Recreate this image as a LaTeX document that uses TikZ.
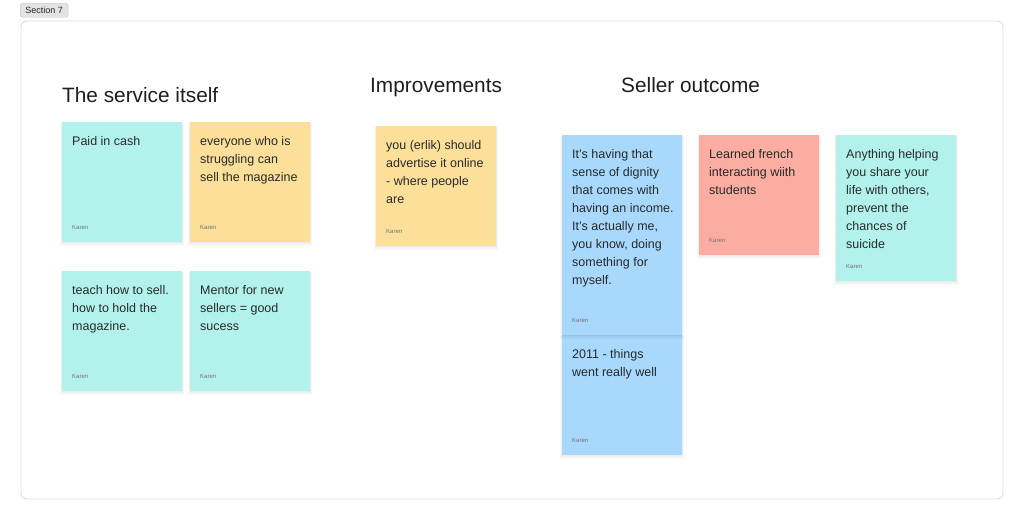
\documentclass[tikz,border=0pt]{standalone}
\usepackage{fontspec}
\setmainfont{Liberation Sans}
\usetikzlibrary{calc}
\definecolor{ncyan}{HTML}{B3F2EC}
\definecolor{nyellow}{HTML}{FCDF99}
\definecolor{nblue}{HTML}{A8D8FC}
\definecolor{nsalmon}{HTML}{FCADA1}
\definecolor{ntextc}{HTML}{262B2B}
\definecolor{titlec}{HTML}{1E1E1E}
\definecolor{framec}{HTML}{DCDCDC}
\definecolor{tagfill}{HTML}{E3E3E3}
\definecolor{tagdraw}{HTML}{C4C4C4}
\tikzset{
  notebox/.style={rectangle, inner sep=0pt, anchor=north west, minimum width=120pt, draw=none},
  ntext/.style={inner sep=0pt, anchor=north west, align=left, text=ntextc, font=\fontsize{12.5}{18}\selectfont},
  karen/.style={inner sep=0pt, anchor=base west, text=black!55, font=\fontsize{6}{7}\selectfont},
  sectitle/.style={inner sep=0pt, anchor=base west, text=titlec, font=\fontsize{20.8}{24}\selectfont},
}
\begin{document}
\begin{tikzpicture}[x=1pt,y=-1pt]
\useasboundingbox (0,0) rectangle (1024,520);
% frame
\draw[framec, line width=0.9pt, rounded corners=6pt] (21,21) rectangle (1003,499);
% section tag
\node[rectangle, rounded corners=2.5pt, fill=tagfill, draw=tagdraw, line width=0.4pt, inner sep=0pt, minimum width=48pt, minimum height=14pt, anchor=north west, font=\fontsize{9}{10}\selectfont, text=black!85] (tag) at (20,3) {Section 7};
% titles
\node[sectitle] (t1) at (62,102) {The service itself};
\node[sectitle] (t2) at (370,92) {Improvements};
\node[sectitle] (t3) at (621,92) {Seller outcome};

% soft shadows
\foreach \x/\y/\h in {62/122/120, 190/122/120, 62/271/120, 190/271/120, 376/126/120, 562/335/120, 562/135/200, 699/135/120, 836/135/146}{
  \foreach \s in {1,2,3,4}{
    \fill[black, opacity=0.018] (\x-\s*0.5,\y+1) rectangle (\x+120+\s*0.5,\y+\h+\s*1.1);
  }
}

% notes
\node[notebox, fill=ncyan, minimum height=120pt] (n1) at (62,122) {};
\node[ntext] at ($(n1.north west)+(10,13.5)$) {\rule{0pt}{10pt}Paid in cash};
\node[karen] at ($(n1.south west)+(10,-13)$) {Karen};

\node[notebox, fill=nyellow, minimum height=120pt] (n2) at (190,122) {};
\node[ntext] at ($(n2.north west)+(10,13.5)$) {\rule{0pt}{10pt}everyone who is\\struggling can\\sell the magazine};
\node[karen] at ($(n2.south west)+(10,-13)$) {Karen};

\node[notebox, fill=ncyan, minimum height=120pt] (n3) at (62,271) {};
\node[ntext] at ($(n3.north west)+(10,13.5)$) {\rule{0pt}{10pt}teach how to sell.\\how to hold the\\magazine.};
\node[karen] at ($(n3.south west)+(10,-13)$) {Karen};

\node[notebox, fill=ncyan, minimum height=120pt] (n4) at (190,271) {};
\node[ntext] at ($(n4.north west)+(10,13.5)$) {\rule{0pt}{10pt}Mentor for new\\sellers = good\\sucess};
\node[karen] at ($(n4.south west)+(10,-13)$) {Karen};

\node[notebox, fill=nyellow, minimum height=120pt] (n5) at (376,126) {};
\node[ntext] at ($(n5.north west)+(10,13.5)$) {\rule{0pt}{10pt}you (erlik) should\\advertise it online\\- where people\\are};
\node[karen] at ($(n5.south west)+(10,-13)$) {Karen};

\node[notebox, fill=nblue, minimum height=120pt] (n7) at (562,335) {};
\node[ntext] at ($(n7.north west)+(10,13.5)$) {\rule{0pt}{10pt}2011 - things\\went really well};
\node[karen] at ($(n7.south west)+(10,-13)$) {Karen};

\foreach \s in {1,2,3}{\fill[black, opacity=0.03] (562,335) rectangle (682,335+\s*1.2);}
\node[notebox, fill=nblue, minimum height=200pt] (n6) at (562,135) {};
\node[ntext] at ($(n6.north west)+(10,13.5)$) {\rule{0pt}{10pt}It’s having that\\sense of dignity\\that comes with\\having an income.\\It’s actually me,\\you know, doing\\something for\\myself.};
\node[karen] at ($(n6.south west)+(10,-13)$) {Karen};

\node[notebox, fill=nsalmon, minimum height=120pt] (n8) at (699,135) {};
\node[ntext] at ($(n8.north west)+(10,13.5)$) {\rule{0pt}{10pt}Learned french\\interacting wiith\\students};
\node[karen] at ($(n8.south west)+(10,-13)$) {Karen};

\node[notebox, fill=ncyan, minimum height=146pt] (n9) at (836,135) {};
\node[ntext] at ($(n9.north west)+(10,13.5)$) {\rule{0pt}{10pt}Anything helping\\you share your\\life with others,\\prevent the\\chances of\\suicide};
\node[karen] at ($(n9.south west)+(10,-13)$) {Karen};
\end{tikzpicture}
\end{document}
